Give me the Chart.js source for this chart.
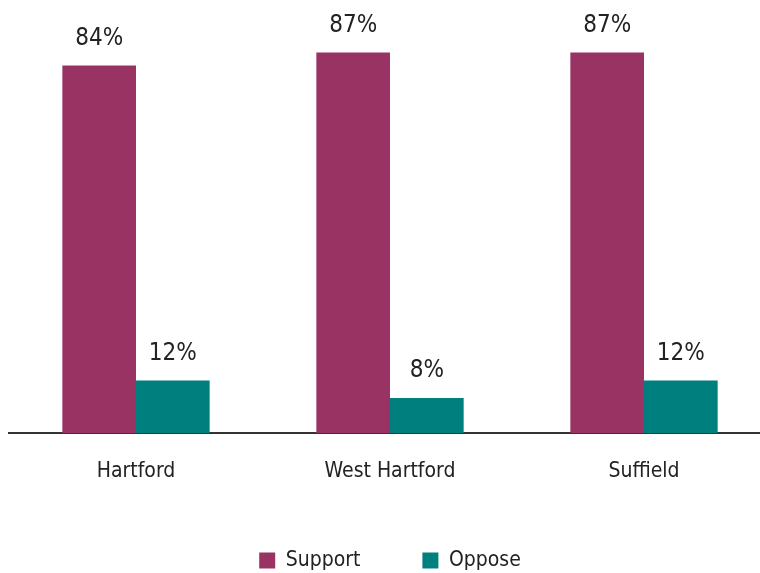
<!DOCTYPE html>
<html lang="en">
  <head>
    <meta charset="UTF-8" />
    <title>Support vs Oppose by town</title>
    <script src="https://cdn.jsdelivr.net/npm/chart.js"></script>
    <style>
      html, body {
          margin: 0;
          padding: 0;
          background: #fff;
          overflow: hidden;
      }
      /* a bit wider than the window: the last category runs off the right edge */
      .chart-wrapper {
          width: 772px;
          height: 573px;
      }
    </style>
  </head>
  <body>
    <div class="chart-wrapper">
      <canvas id="townChart"></canvas>
    </div>

    <script>
      var towns = ["Hartford", "West Hartford", "Suffield"];
      var supportValues = [84, 87, 87];
      var opposeValues = [12, 8, 12];
      var seriesNames = ["Support", "Oppose"];

      var fontFamily = "'Liberation Sans Narrow', 'DejaVu Sans Condensed', 'Roboto', sans-serif";

      // draws the "84%" style labels above each bar
      var valueLabels = {
        id: "valueLabels",
        afterDatasetsDraw: function (chart) {
          var ctx = chart.ctx;
          ctx.save();
          ctx.font = "24px " + fontFamily;
          ctx.fillStyle = "#222";
          ctx.textAlign = "center";
          ctx.textBaseline = "middle";
          chart.data.datasets.forEach(function (ds, i) {
            var meta = chart.getDatasetMeta(i);
            meta.data.forEach(function (bar, j) {
              ctx.fillText(ds.data[j] + "%", bar.x, bar.y - 27);
            });
          });
          ctx.restore();
        },
      };

      var ctx = document.getElementById("townChart").getContext("2d");

      var townChart = new Chart(ctx, {
        type: "bar",
        data: {
          labels: towns,
          datasets: [
            {
              label: seriesNames[0],
              data: supportValues,
              backgroundColor: "#993363",
            },
            {
              label: seriesNames[1],
              data: opposeValues,
              backgroundColor: "#007f7f",
            },
          ],
        },
        options: {
          responsive: true,
          maintainAspectRatio: false,
          animation: false,
          layout: {
            padding: { left: 9, right: 1, top: 0, bottom: 0 },
          },
          datasets: {
            bar: {
              barPercentage: 1,
              categoryPercentage: 0.58,
            },
          },
          scales: {
            x: {
              grid: { display: false, drawTicks: false },
              border: { color: "#333", width: 2 },
              ticks: {
                color: "#222",
                padding: 26,
                font: { family: fontFamily, size: 21 },
              },
              afterFit: function (scale) {
                scale.height = 55;
              },
            },
            y: {
              min: 0,
              max: 99,
              display: false,
            },
          },
          plugins: {
            legend: {
              position: "bottom",
              maxHeight: 85,
              labels: {
                boxWidth: 16,
                boxHeight: 16,
                padding: 62,
                color: "#222",
                font: { family: fontFamily, size: 21 },
              },
            },
            tooltip: { enabled: false },
          },
        },
        plugins: [valueLabels],
      });
    </script>
  </body>
</html>
